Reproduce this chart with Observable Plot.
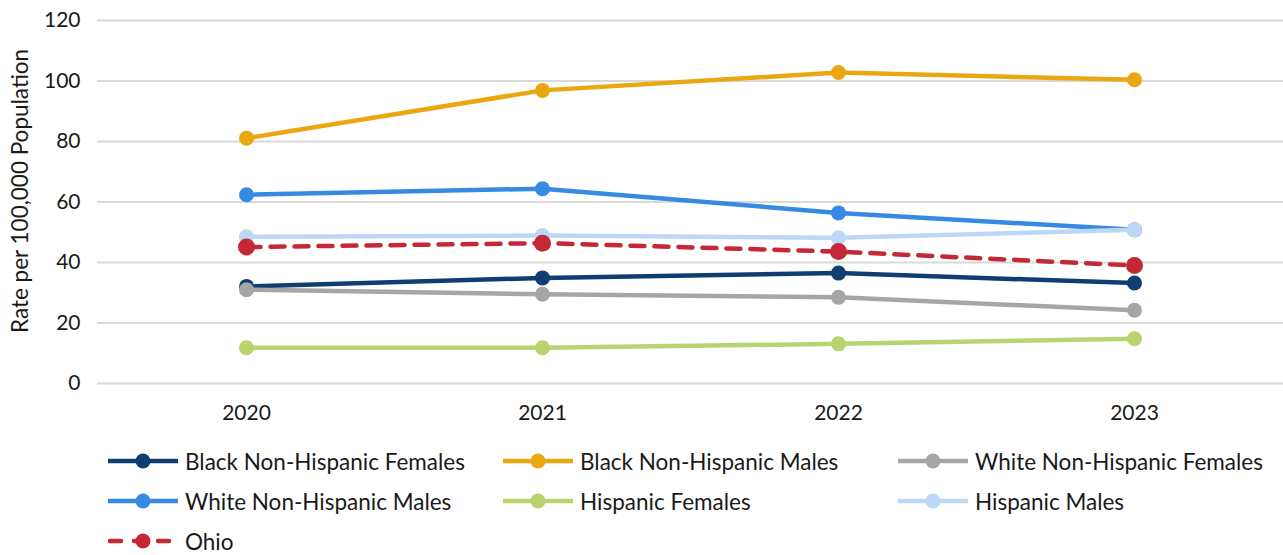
<!DOCTYPE html>
<html>
<head>
<meta charset="utf-8">
<script src="https://cdn.jsdelivr.net/npm/d3@7"></script>
<script src="https://cdn.jsdelivr.net/npm/@observablehq/plot@0.6"></script>
<style>
  html, body { margin: 0; padding: 0; background: #fff; }
  body { width: 1283px; height: 555px; overflow: hidden; font-family: Lato, "Noto Sans", sans-serif; }
  #legend { display: grid; grid-template-columns: 395px 395px 395px; padding-left: 108px; padding-top: 11px; }
  .item { display: flex; align-items: center; height: 40px; font-size: 22.5px; color: #1a1a1a; white-space: nowrap; }
  .item svg { margin-right: 7px; flex: none; }
</style>
</head>
<body>
<div id="chart"></div>
<div id="legend"></div>
<script>
const years = ["2020", "2021", "2022", "2023"];
const seriesNames = [
  "Black Non-Hispanic Females",
  "Black Non-Hispanic Males",
  "White Non-Hispanic Females",
  "White Non-Hispanic Males",
  "Hispanic Females",
  "Hispanic Males",
  "Ohio"
];
const blackNHFemales = [32.1, 34.9, 36.5, 33.2];
const blackNHMales = [81.1, 96.9, 102.8, 100.4];
const whiteNHFemales = [31.0, 29.5, 28.5, 24.2];
const whiteNHMales = [62.4, 64.4, 56.4, 50.8];
const hispanicFemales = [11.8, 11.8, 13.1, 14.8];
const hispanicMales = [48.5, 48.9, 48.2, 50.8];
const ohio = [45.1, 46.4, 43.6, 39.0];
const seriesColors = ["#0f3e70", "#eaa711", "#a6a6a6", "#378ae4", "#b9d36f", "#bdd8f5", "#c42837"];
const yTicks = [0, 20, 40, 60, 80, 100, 120];
const yLabel = "Rate per 100,000 Population";

const allValues = [blackNHFemales, blackNHMales, whiteNHFemales, whiteNHMales, hispanicFemales, hispanicMales, ohio];
const data = [];
seriesNames.forEach((s, i) => {
  years.forEach((y, j) => data.push({series: s, year: y, value: allValues[i][j]}));
});

const fontFamily = "Lato, 'Noto Sans', sans-serif";

const marks = [
  Plot.gridY(yTicks, {stroke: "#d9d9d9", strokeOpacity: 1, strokeWidth: 2}),
  Plot.axisY(yTicks, {tickSize: 0, tickPadding: 17, fontSize: 21, label: null, tickFormat: d => String(d), fill: "#1a1a1a"}),
  Plot.axisX({tickSize: 0, tickPadding: 22, fontSize: 21, label: null, fill: "#1a1a1a"}),
  Plot.text([yLabel], {frameAnchor: "left", textAnchor: "middle", dx: -77, dy: -11, rotate: -90, fontSize: 22.5, fill: "#1a1a1a"})
];
seriesNames.forEach((s, i) => {
  const d = data.filter(r => r.series === s);
  const isOhio = s === "Ohio";
  marks.push(Plot.line(d, {x: "year", y: "value", stroke: seriesColors[i], strokeWidth: 4.5,
    strokeDasharray: isOhio ? "14,10" : null, strokeLinecap: isOhio ? "round" : "butt"}));
  marks.push(Plot.dot(d, {x: "year", y: "value", fill: seriesColors[i], r: isOhio ? 8.5 : 7.5}));
});

const chart = Plot.plot({
  width: 1283,
  height: 430,
  marginLeft: 97,
  marginRight: 0,
  marginTop: 20,
  marginBottom: 47,
  style: {fontFamily: fontFamily, fontSize: "21px", color: "#1a1a1a", background: "#fff"},
  x: {type: "point", domain: years, padding: 0.5},
  y: {domain: [0, 120]},
  marks
});
document.getElementById("chart").appendChild(chart);

const legend = document.getElementById("legend");
seriesNames.forEach((s, i) => {
  const isOhio = s === "Ohio";
  const item = document.createElement("div");
  item.className = "item";
  const ns = "http://www.w3.org/2000/svg";
  const svg = document.createElementNS(ns, "svg");
  svg.setAttribute("width", 70);
  svg.setAttribute("height", 20);
  const line = document.createElementNS(ns, "line");
  line.setAttribute("x1", isOhio ? 2 : 0); line.setAttribute("x2", isOhio ? 68 : 70);
  line.setAttribute("y1", 10); line.setAttribute("y2", 10);
  line.setAttribute("stroke", seriesColors[i]);
  line.setAttribute("stroke-width", 4.5);
  if (isOhio) { line.setAttribute("stroke-dasharray", "11,13"); line.setAttribute("stroke-linecap", "round"); }
  svg.appendChild(line);
  const c = document.createElementNS(ns, "circle");
  c.setAttribute("cx", 35); c.setAttribute("cy", 10); c.setAttribute("r", 7.5);
  c.setAttribute("fill", seriesColors[i]);
  svg.appendChild(c);
  item.appendChild(svg);
  const span = document.createElement("span");
  span.textContent = s;
  item.appendChild(span);
  legend.appendChild(item);
});
</script>
</body>
</html>
